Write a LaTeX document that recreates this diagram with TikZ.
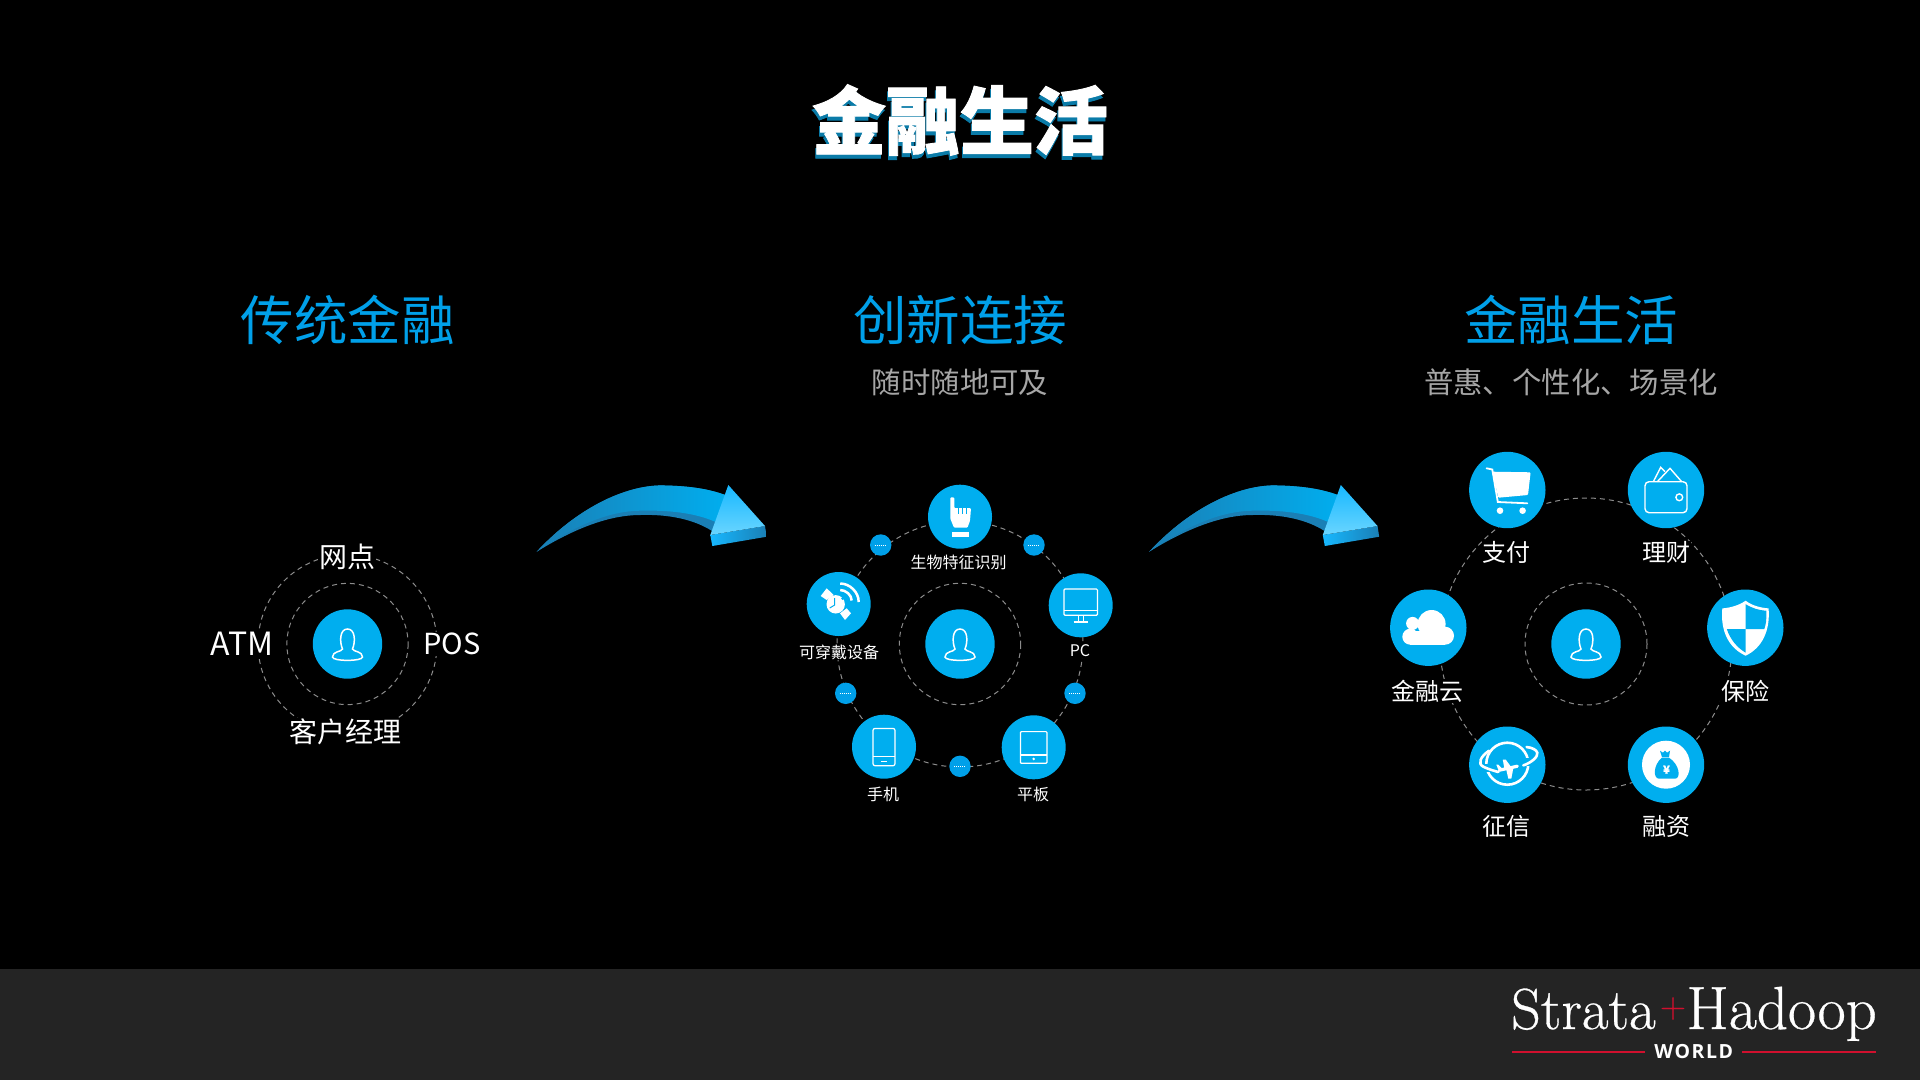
\documentclass[tikz,border=0pt]{standalone}
\usepackage{fontspec}
\setmainfont{Latin Modern Roman}
\newfontfamily\cjk[BoldFeatures={FakeBold=1.2}]{Noto Sans CJK SC}
\newfontfamily\worldfont[LetterSpace=8]{Open Sans}
\newfontfamily\logofont[FakeBold=0.5]{Latin Modern Roman}
\newcommand{\fs}[1]{\fontsize{#1}{#1}\selectfont}
\definecolor{skyblue}{HTML}{00AEEF}
\definecolor{headblue}{HTML}{00A0E9}
\definecolor{shadeblue}{HTML}{0A7BA8}
\definecolor{deepblue}{HTML}{1A7FB5}
\definecolor{tipblue}{HTML}{17B8FF}
\definecolor{paleblue}{HTML}{6AD5FF}
\definecolor{bandgray}{HTML}{242424}
\definecolor{ringgray}{HTML}{8C8C8C}
\definecolor{subgray}{HTML}{A6A6A6}
\definecolor{rulered}{HTML}{D0102E}
\tikzset{
  hubdot/.style={circle,fill=skyblue,minimum size=69.4pt,inner sep=0pt},
  middot/.style={circle,fill=skyblue,minimum size=64pt,inner sep=0pt},
  bigdot/.style={circle,fill=skyblue,minimum size=76.4pt,inner sep=0pt},
  tinydot/.style={circle,fill=headblue,minimum size=21.4pt,inner sep=0pt},
  ringdash/.style={draw=ringgray,line width=1pt,dash pattern=on 5pt off 4pt},
  lefttext/.style={text=white,fill=black,inner sep=1pt,font=\cjk\fs{28}},
  midtext/.style={text=white,fill=black,inner sep=1pt,font=\cjk\fs{16}},
  righttext/.style={text=white,fill=black,inner sep=1pt,font=\cjk\fs{24}},
  headtext/.style={text=headblue,inner sep=0pt,font=\cjk\fs{53.5}},
  subtext/.style={text=subgray,inner sep=0pt,font=\cjk\fs{29.4}},
  personicon/.pic={
    \draw[white,line width=1.5pt] (-5,5) .. controls (-8,-2) and (-8,-15) .. (0,-15)
      .. controls (8,-15) and (8,-2) .. (5,5) .. controls (6,8) and (15,7) .. (15,13)
      .. controls (15,17.5) and (-15,17.5) .. (-15,13) .. controls (-15,7) and (-6,8) .. (-5,5) -- cycle;
  },
  handicon/.pic={
    \fill[white,rounded corners=1pt] (-9.7,-19.3) -- (-5.7,-19.3) -- (-5.7,-8.5) -- (11,-8.5) -- (10,4) -- (7.5,11) -- (-6,11) -- (-9.7,2) -- cycle;
    \draw[skyblue,line width=1pt] (-1.5,-8.8) -- (-1.5,-3) (2.5,-8.8) -- (2.5,-3) (6.5,-8.8) -- (6.5,-3);
    \fill[white] (-7.7,15) rectangle (9.3,20);
  },
  watchicon/.pic={
    \fill[white] (-18,-8) -- (-12,-15.7) -- (-5,-9) -- (-12,-4) -- cycle;
    \fill[white] (1.3,9.3) -- (8,4.3) -- (12.3,9.3) -- (6.3,16) -- cycle;
    \fill[white] (-3,0.3) circle (9.2);
    \draw[skyblue,line width=1pt] (-4,-6) -- (-4,1) -- (-9,4);
    \fill[skyblue] (4,-5.5) circle (1.5);
    \draw[white,line width=2.5pt] (1.5,-20.5) .. controls (11,-20.5) and (20,-12) .. (20,-2);
    \draw[white,line width=2.5pt] (1.5,-14) .. controls (7,-14) and (13,-9) .. (13,-3.5);
  },
  pcicon/.pic={
    \draw[white,line width=1.2pt,rounded corners=1pt] (-16.7,-16.3) rectangle (16.7,10);
    \draw[white,line width=1.2pt] (-16.7,5.3) -- (16.7,5.3);
    \draw[white,line width=1.2pt] (-2.5,10) -- (-2.5,16.5) (2.5,10) -- (2.5,16.5) (-7,16.7) -- (7,16.7);
  },
  tableticon/.pic={
    \draw[white,line width=1.2pt,rounded corners=1pt] (-13.3,-15.7) rectangle (13.3,16);
    \draw[white,line width=1.2pt] (-13.3,7.7) -- (13.3,7.7);
    \fill[white] (0,11.6) circle (1.4);
  },
  phoneicon/.pic={
    \draw[white,line width=1.2pt,rounded corners=2pt] (-11,-18.3) rectangle (11,19);
    \draw[white,line width=1.2pt] (-11,10) -- (11,10);
    \draw[white,line width=1.2pt] (-3,14.5) -- (3,14.5);
  },
  carticon/.pic={
    \fill[white,rounded corners=1pt] (-14.7,-18.3) -- (23.3,-17.7) -- (20.7,5) -- (-9,7.7) -- cycle;
    \draw[white,line width=1.8pt,line cap=round] (-20.7,-21.7) -- (-15,-20.5) -- (-9.5,12) -- (20,13.3);
    \fill[white] (-7.3,20.7) circle (3.3) (15.3,20.7) circle (3.3);
  },
  walleticon/.pic={
    \draw[white,line width=1.4pt,rounded corners=4pt] (-21,-8.3) rectangle (21,22.7);
    \draw[white,line width=1.4pt] (-12.7,-8.3) -- (-5.3,-22.7) -- (-1,-18.3);
    \draw[white,line width=1.4pt] (-8.7,-8.3) -- (4,-21.7) -- (15.7,-8.3);
    \draw[white,line width=1.4pt] (13.3,7.3) circle (3.4);
  },
  shieldicon/.pic={
    \fill[white] (0.3,-27) .. controls (7,-22) and (15,-20) .. (23.3,-19.3) .. controls (25,3) and (17,20) .. (0.3,28)
      .. controls (-17,20) and (-25,3) .. (-23,-19.3) .. controls (-15,-20) and (-7,-22) .. (0.3,-27) -- cycle;
    \fill[skyblue] (0.3,-23.5) .. controls (7,-19.5) and (13,-17.5) .. (21,-17) .. controls (21.5,-8) and (20.5,-3) .. (19,1.3) -- (0.3,1.3) -- cycle;
    \fill[skyblue] (0.3,1.3) -- (-18.5,1.3) .. controls (-15,12) and (-8,20) .. (0.3,25) -- cycle;
  },
  cloudicon/.pic={
    \fill[white] (-15.7,-4.3) circle (6.5) (3.3,-3.7) circle (14) (16.7,8) circle (9) (-18,9) circle (8);
    \fill[white] (-18,3) rectangle (17,17);
  },
  planeticon/.pic={
    \draw[white,line width=2.6pt] (0,-1) circle (21);
    \fill[skyblue] (-27,-1) rectangle (-17,7);
    \fill[skyblue] (17,-7) rectangle (27,1);
    \draw[white,line width=2.6pt,line cap=round] (-18.3,-14) .. controls (-27,-8) and (-30,-1) .. (-24,2) .. controls (-20,4) and (-14,6) .. (-9,7.3);
    \draw[white,line width=2.6pt,line cap=round] (16,0.7) .. controls (24,-2) and (31,-8) .. (30,-12) .. controls (29,-15) and (25,-17) .. (19.3,-17.7);
    \draw[white,line width=3.2pt,line cap=round] (-8,5.5) -- (10,1.5);
    \fill[white] (-3,3.5) -- (-4.5,-5) -- (-1.5,-5) -- (4,2.5) -- cycle;
    \fill[white] (-1,5) -- (1,14) -- (4,14) -- (6,3.5) -- cycle;
    \fill[white] (-9,5) -- (-11,0) -- (-9,0) -- (-5,4) -- cycle;
  },
  bagicon/.pic={
    \fill[white] (0,0) circle (24);
    \fill[skyblue] (-4,-7) .. controls (-13,0) and (-13,14) .. (-7,14) -- (9,14) .. controls (15,14) and (14,0) .. (3,-7) -- cycle;
    \fill[skyblue] (-6,-14) -- (-3,-12) -- (-1,-14) -- (1,-12) -- (4,-14) -- (3,-7.5) -- (-4,-7.5) -- cycle;
    \node[text=white,inner sep=0pt,font=\cjk\bfseries\fs{11}] (yenmark) at (0.5,5) {¥};
  },
}
\begin{document}
\begin{tikzpicture}[x=1pt,y=-1pt]
  \fill[black] (0,0) rectangle (1920,1080);
  \fill[bandgray] (0,969) rectangle (1920,1080);

  % titles
  \node[text=shadeblue,inner sep=0pt,font=\cjk\bfseries\fs{74}] (titleshade) at (959,124) {金融生活};
  \node[text=white,inner sep=0pt,font=\cjk\bfseries\fs{74}] (titlemain) at (960,120) {金融生活};
  \node[headtext] (headold) at (347.5,320) {传统金融};
  \node[headtext] (headnew) at (960,320) {创新连接};
  \node[headtext] (headlife) at (1571,320) {金融生活};
  \node[subtext] (subnew) at (960,382.5) {随时随地可及};
  \node[subtext] (sublife) at (1571,382.5) {普惠、个性化、场景化};

  % traditional finance
  \node[hubdot] (hubold) at (347.5,644) {};
  \draw[ringdash] (hubold) circle (60.6);
  \draw[ringdash] (hubold) circle (89.5);
  \pic at (hubold) {personicon};
  \node[lefttext] (outlet) at (347,557) {网点};
  \node[lefttext,font=\cjk\fs{32}] (atm) at (242,644) {ATM};
  \node[lefttext,font=\cjk\fs{29}] (pos) at (452,644) {POS};
  \node[lefttext] (manager) at (345,732) {客户经理};

  % arrows
  \foreach \dx in {0,612.5} {
    \begin{scope}[xshift=\dx]
      \fill[deepblue] (536.7,551.7) .. controls (580,505) and (630,484) .. (665,485.5)
        .. controls (690,486) and (710,489) .. (728,496) -- (712,531)
        .. controls (695,520) and (670,514) .. (640,515) .. controls (610,515) and (575,528) .. (536.7,551.7) -- cycle;
      \shade[left color=deepblue,right color=skyblue] (536.7,551.7) .. controls (580,505) and (630,484) .. (665,485.5)
        .. controls (690,486) and (710,489) .. (728,496) -- (715,521.7)
        .. controls (695,513) and (670,510) .. (640,510.7) .. controls (610,511) and (575,525) .. (536.7,551.7) -- cycle;
      \shade[left color=tipblue,right color=deepblue] (710.3,535) -- (765,526) -- (766.7,536.7) -- (712.3,546) -- cycle;
      \shade[top color=tipblue,bottom color=paleblue] (728.3,485) -- (765,526) -- (710.3,535) -- cycle;
    \end{scope}
  }

  % innovative connection
  \node[hubdot] (hubnew) at (960,644) {};
  \draw[ringdash] (hubnew) circle (60.7);
  \draw[ringdash] (hubnew) circle (123);
  \pic at (hubnew) {personicon};
  \node[middot] (bio) at (960,516.7) {};
  \node[middot] (pc) at (1080.7,605.3) {};
  \node[middot] (tablet) at (1033.7,747.3) {};
  \node[middot] (phone) at (884,746.7) {};
  \node[middot] (watch) at (838.7,604) {};
  \pic at (bio) {handicon};
  \pic at (pc) {pcicon};
  \pic at (tablet) {tableticon};
  \pic at (phone) {phoneicon};
  \pic at (watch) {watchicon};
  \foreach \name/\px/\py in {dota/880.7/545,dotb/1034/545,dotc/1075/693.3,dotd/960/766.3,dote/845.7/693.3} {
    \node[tinydot] (\name) at (\px,\py) {};
    \draw[white,line width=0.7pt,dash pattern=on 1pt off 1pt] ([xshift=-6pt]\name.center) -- ([xshift=6pt]\name.center);
  }
  \node[midtext] (biotext) at (958.7,562.3) {生物特征识别};
  \node[midtext] (pctext) at (1080,651) {PC};
  \node[midtext] (tablettext) at (1033,794) {平板};
  \node[midtext] (phonetext) at (883,794) {手机};
  \node[midtext] (watchtext) at (839,652) {可穿戴设备};

  % financial life
  \node[hubdot] (hublife) at (1586,644) {};
  \draw[ringdash] (hublife) circle (61);
  \draw[ringdash] (hublife) circle (146);
  \pic at (hublife) {personicon};
  \node[bigdot] (pay) at (1507.3,490) {};
  \node[bigdot] (wealth) at (1666,490) {};
  \node[bigdot] (insure) at (1745.3,627.7) {};
  \node[bigdot] (funding) at (1666,764.7) {};
  \node[bigdot] (credit) at (1507.3,764.7) {};
  \node[bigdot] (cloud) at (1428.3,627.7) {};
  \pic at (pay) {carticon};
  \pic at (wealth) {walleticon};
  \pic at (insure) {shieldicon};
  \pic at (funding) {bagicon};
  \pic at (credit) {planeticon};
  \pic at (cloud) {cloudicon};
  \node[righttext] (paytext) at (1506.7,552.7) {支付};
  \node[righttext] (wealthtext) at (1666,552.7) {理财};
  \node[righttext] (insuretext) at (1745,691) {保险};
  \node[righttext] (fundingtext) at (1666,826.7) {融资};
  \node[righttext] (credittext) at (1506.7,826.7) {征信};
  \node[righttext] (cloudtext) at (1427,691) {金融云};

  % logo
  \node[anchor=base west,text=white,inner sep=0pt,font=\logofont\fs{58}] (strata) at (1511,1029) {Strata};
  \node[text=rulered,inner sep=0pt,font=\logofont\fs{36}] (plus) at (1673,1008.5) {+};
  \node[anchor=base east,text=white,inner sep=0pt,font=\logofont\fs{61}] (hadoop) at (1877,1029) {Hadoop};
  \node[text=white,inner sep=0pt,minimum width=96.5pt,font=\worldfont\bfseries\fs{19.5}] (worldtag) at (1693.7,1052) {WORLD};
  \coordinate (ruleleft) at (1512,1052);
  \coordinate (ruleright) at (1876,1052);
  \draw[rulered,line width=1.3pt] (ruleleft) -- (worldtag.west);
  \draw[rulered,line width=1.3pt] (worldtag.east) -- (ruleright);
\end{tikzpicture}
\end{document}
